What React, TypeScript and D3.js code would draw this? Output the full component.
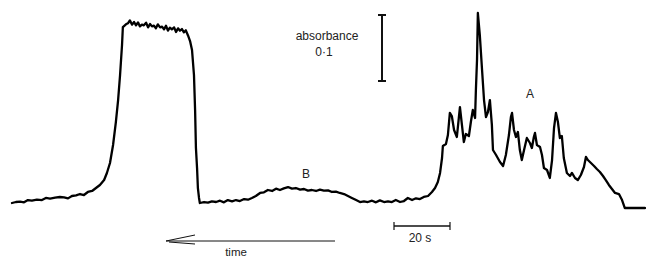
import { useMemo } from "react";
import { line, scaleLinear } from "d3";

// time (s) and absorbance (milli-absorbance units)
const timeS = [
  0, 1.4, 2.9, 4.3, 5.7, 7.1, 8.9, 10.7, 12.1, 13.6, 15.4, 17.1, 18.6, 20.0, 21.4, 22.9, 24.3, 25.7, 27.1, 28.6,
  30.0, 31.4, 32.9, 33.9, 35.0, 36.1, 37.1, 37.9, 38.6, 39.3, 39.6, 40.7, 41.4, 42.1, 42.9, 43.6, 44.3, 45.0, 45.7,
  46.4, 47.1, 47.9, 48.6, 49.3, 50.0, 50.7, 51.4, 52.1, 52.9, 53.6, 54.3, 55.0, 55.7, 56.4, 57.1, 57.9, 58.6, 59.3,
  60.0, 60.7, 61.4, 62.1, 62.9, 63.6, 64.3, 65.0, 65.4, 65.7, 66.1, 66.4, 66.8, 67.1,
  68.6, 70.0, 71.4, 72.9, 74.3, 75.7, 77.1, 78.6, 80.0, 81.4, 82.9, 84.3, 85.7, 87.1, 88.6, 90.0, 91.4, 92.9, 94.3,
  95.7, 97.1, 98.6, 100.0, 101.4, 102.9, 104.3, 105.7, 107.1, 108.6, 110.0, 111.4, 112.9, 114.3, 115.7, 117.1, 118.6,
  120.0, 121.4, 122.9, 124.3, 125.7, 127.1, 128.6, 130.0, 131.4, 132.9, 134.3, 135.7, 137.1, 138.6, 140.0, 141.4,
  142.9, 144.3, 145.7,
  147.1, 148.6, 150.0, 151.1, 152.1, 152.9, 153.6, 153.9, 155.0, 155.7, 156.4, 157.1, 157.9, 158.9, 159.6, 160.0,
  160.7, 161.4, 162.1, 163.2, 163.9, 164.6, 165.4, 165.7, 166.1, 166.4, 167.1, 167.9, 168.6, 169.3, 170.0, 170.7,
  171.4, 171.8, 172.9, 174.3, 175.4, 176.4, 177.5, 178.2, 178.6, 179.3, 180.0, 180.7, 181.4, 182.1, 182.9, 183.9,
  185.0, 185.7, 186.4, 186.8, 187.5, 188.6, 189.3, 190.0, 191.1, 192.1, 192.9, 193.6, 194.3, 195.0, 195.7, 196.4,
  197.1, 198.2, 199.3, 200.0, 201.1, 202.1, 203.2, 204.3, 205.0, 205.7, 206.8, 207.9, 208.9, 210.0, 211.1, 212.1,
  213.2, 214.3, 215.4, 216.8, 217.9, 218.9, 220.7, 222.9, 226.1,
];

const absorbance = [
  0, 1.5, 2, 1, 4.5, 3.5, 5, 4.5, 7.6, 6.5, 8, 9.1, 8.5, 7, 10.6, 11.5, 13.6, 12.1, 16.7, 18.2,
  22.7, 27.3, 34.8, 45.5, 60.6, 87.9, 122.7, 156.0, 193.9, 239.4, 266.6, 270.7, 272.2, 276.7, 270.2, 274.2, 269.2,
  273.7, 267.6, 270.2, 269.2, 273.2, 266.1, 271.2, 267.6, 268.7, 264.6, 270.7, 266.1, 267.2, 263.1, 268.6, 261.1,
  265.6, 263.1, 266.1, 259.1, 264.6, 261.1, 263.6, 258.6, 261.6, 253.5, 245.4, 231.8, 193.9, 140.9, 83.3, 53.0,
  22.7, 7.6, 0,
  1.5, 0.5, 2.5, 1.5, 3.5, 1, 4.5, 2.5, 4.5, 3, 6, 5, 7.6, 10.6, 15.2, 16.2, 19.7, 18.2, 21.7, 19.7, 22.2, 24.2, 21.7,
  22.7, 20.2, 21.2, 18.7, 19.7, 18.2, 20.2, 18.7, 19.2, 16.7, 17.2, 15.2, 13.6, 10.6, 7.6, 4.5, 1.5, 2.5, 1.5, 3.5,
  1, 4, 1.5, 2.5, 1.5, 4.5, 1.5, 3, 7.6, 4.5, 7.1, 6,
  9.1, 10.6, 16.7, 22.7, 31.8, 45.5, 68.2, 86.4, 89.4, 103.0, 136.4, 131.8, 110.6, 100.0, 128.8, 145.4, 118.7,
  92.4, 104.5, 101.5, 122.7, 140.9, 128.8, 171.7, 217.1, 287.9, 254.5, 201.5, 156.0, 130.3, 137.9, 156.0, 118.7,
  80.3, 72.7, 62.1, 56.1, 72.7, 103.0, 130.3, 136.4, 110.6, 100.0, 107.6, 80.3, 65.1, 80.3, 98.5, 90.9, 83.3,
  100.0, 106.1, 87.9, 84.8, 72.7, 53.0, 50.0, 37.9, 65.1, 113.6, 136.4, 122.7, 98.5, 101.5, 68.2, 45.5, 40.9, 45.5,
  37.9, 34.8, 42.4, 54.5, 69.7, 65.1, 60.6, 56.1, 51.5, 47.0, 40.9, 34.8, 27.3, 21.2, 15.2, 13.6, 4.5, -7.6, -7.6,
  -7.6, -7.6,
];

const scaleBarAbs = 100; // 0·1 absorbance
const scaleBarTime = 20; // seconds

const font = "'Liberation Sans', Arial, sans-serif";

export default function App() {
  const { path, x, y } = useMemo(() => {
    const x = scaleLinear().domain([0, 226.1]).range([12, 645]);
    const y = scaleLinear().domain([0, 100]).range([203, 137]);
    const pts = timeS.map((t, i) => [t, absorbance[i]] as [number, number]);
    const path = line<[number, number]>()
      .x((d) => x(d[0]))
      .y((d) => y(d[1]))(pts) || "";
    return { path, x, y };
  }, []);

  const absLen = y(0) - y(scaleBarAbs);
  const timeLen = x(scaleBarTime) - x(0);

  return (
    <svg
      width={646}
      height={260}
      style={{ position: "absolute", left: 0, top: 0, background: "#fff" }}
    >
      <path d={path} fill="none" stroke="#000" strokeWidth={2.3} strokeLinejoin="round" strokeLinecap="round" />

      {/* absorbance scale bar */}
      <g stroke="#111" strokeWidth={2}>
        <line x1={382} x2={382} y1={15} y2={15 + absLen} />
        <line x1={378} x2={386} y1={15} y2={15} />
        <line x1={378} x2={386} y1={15 + absLen} y2={15 + absLen} />
      </g>
      <text x={327} y={40} textAnchor="middle" fontFamily={font} fontSize={12} fill="#222">
        absorbance
      </text>
      <text x={324} y={56} textAnchor="middle" fontFamily={font} fontSize={12} fill="#222">
        0·1
      </text>

      {/* peak labels */}
      <text x={306} y={178} textAnchor="middle" fontFamily={font} fontSize={12} fill="#222">
        B
      </text>
      <text x={530} y={98} textAnchor="middle" fontFamily={font} fontSize={12} fill="#222">
        A
      </text>

      {/* time scale bar */}
      <g stroke="#111">
        <line x1={394} x2={394 + timeLen} y1={226} y2={226} strokeWidth={1.5} />
        <line x1={394} x2={394} y1={222} y2={230} strokeWidth={1.2} />
        <line x1={394 + timeLen} x2={394 + timeLen} y1={222} y2={230} strokeWidth={1.2} />
      </g>
      <text x={420} y={242} textAnchor="middle" fontFamily={font} fontSize={12} fill="#222">
        20 s
      </text>

      {/* time arrow */}
      <g stroke="#111" strokeWidth={1} fill="none">
        <line x1={166} x2={335} y1={241} y2={241} />
        <line x1={166} x2={195} y1={241} y2={235} />
        <line x1={169} x2={195} y1={242} y2={244} />
      </g>
      <text x={236} y={256} textAnchor="middle" fontFamily={font} fontSize={11.5} fill="#222">
        time
      </text>
    </svg>
  );
}
